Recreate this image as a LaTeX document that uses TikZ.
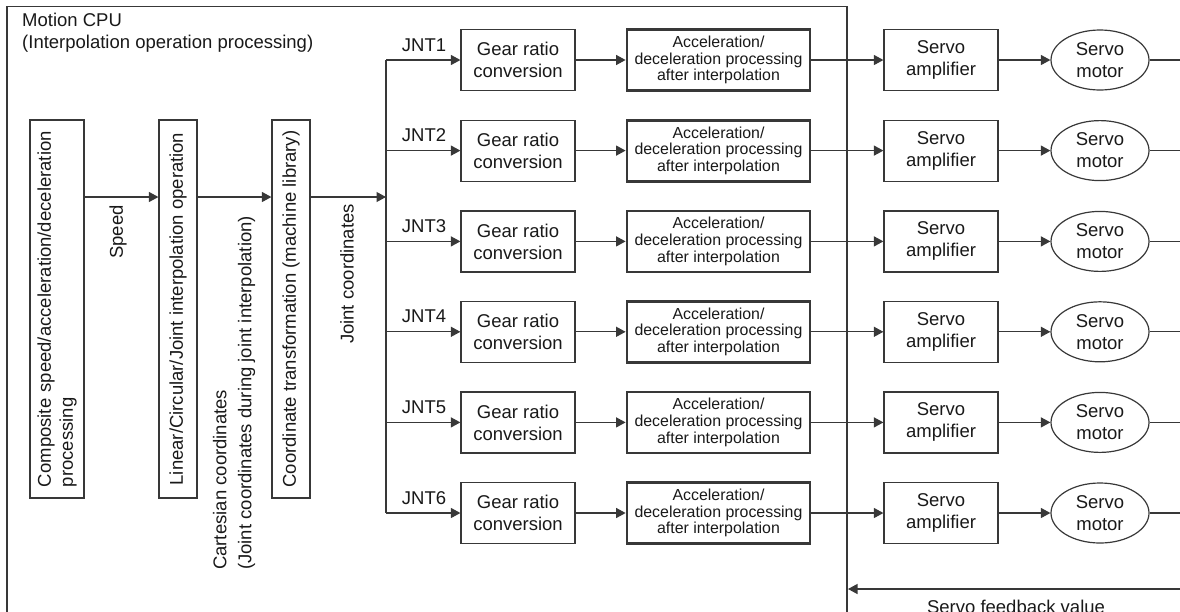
\documentclass[tikz,border=0pt]{standalone}
\usepackage{fontspec}
\setmainfont{Liberation Sans}
\usetikzlibrary{arrows.meta,shapes.geometric}
\definecolor{lncol}{gray}{0.22}
\definecolor{txtcol}{gray}{0.1}
\begin{document}
\begin{tikzpicture}[x=1pt,y=-1pt,
  every node/.style={text=txtcol, font=\fontsize{18.5}{22}\selectfont},
  box/.style={draw=lncol, line width=1.2pt, inner sep=0pt, align=center},
  thickbox/.style={box, line width=2.8pt},
  arr/.style={draw=lncol, line width=1.2pt, -{Triangle[length=9.5pt,width=10pt]}},
  plainln/.style={draw=lncol, line width=1.2pt},
  accfont/.style={font=\fontsize{15.9}{16.7}\selectfont}]
\useasboundingbox (0,0) rectangle (1180,611);
\clip (0,0) rectangle (1180,611);
% outer Motion CPU frame
\draw[draw=lncol, line width=1.5pt] (7,640) -- (7,6.5) -- (847,6.5) -- (847,640);
\node[anchor=north west, align=left, inner sep=0pt] (cpu) at (22,13) {Motion CPU\\(Interpolation operation processing)};
% left vertical boxes
\node[thickbox, rotate=90, minimum width=378pt, minimum height=54pt, text width=356pt, align=left] (comp) at (57,309) {Composite speed/acceleration/deceleration\\processing};
\node[box, rotate=90, minimum width=378pt, minimum height=38pt] (lin) at (178,309) {Linear/Circular/Joint interpolation operation};
\node[box, rotate=90, minimum width=378pt, minimum height=38pt] (coord) at (291,309) {Coordinate transformation (machine library)};
\coordinate (mainrow) at (0,197);
\coordinate (bus) at (386,197);
\draw[arr] (comp.south |- mainrow) -- (lin.north |- mainrow);
\draw[arr] (lin.south |- mainrow) -- (coord.north |- mainrow);
\draw[arr] (coord.south |- mainrow) -- (bus);
\node[rotate=90] (speed) at (118,232) {Speed};
\node[rotate=90, anchor=west, align=left, inner sep=0pt, font=\fontsize{18.5}{25}\selectfont] (cart) at (234,570) {Cartesian coordinates\\(Joint coordinates during joint interpolation)};
\node[rotate=90] (jc) at (347,274) {Joint coordinates};
% joint rows
\foreach \i/\yy in {1/60,2/150.6,3/241.4,4/331.8,5/422.4,6/513} {
  \node[box, minimum width=114pt, minimum height=61pt] (g\i) at (518,\yy) {Gear ratio\\conversion};
  \node[thickbox, accfont, minimum width=183pt, minimum height=61pt] (a\i) at (718.5,\yy) {Acceleration/\\deceleration processing\\after interpolation};
  \node[box, minimum width=114pt, minimum height=61pt] (s\i) at (941,\yy) {Servo\\amplifier};
  \node[box, ellipse, minimum width=98pt, minimum height=60pt] (m\i) at (1100,\yy) {Servo\\motor};
  \coordinate (b\i) at (386,\yy);
  \coordinate (e\i) at (1190,\yy);
  \node[anchor=base, inner sep=0pt] (j\i) at (424,\yy-9) {JNT\i};
  \draw[arr] (b\i) -- (g\i);
  \draw[arr] (g\i) -- (a\i);
  \draw[arr] (a\i) -- (s\i);
  \draw[arr] (s\i) -- (m\i);
  \draw[plainln] (m\i) -- (e\i);
}
\draw[plainln] (b1) -- (b6);
% feedback
\coordinate (fbs) at (1190,589);
\coordinate (fbe) at (848,589);
\draw[arr] (fbs) -- (fbe);
\node[anchor=base, inner sep=0pt] (fb) at (1016,613) {Servo feedback value};
\end{tikzpicture}
\end{document}
